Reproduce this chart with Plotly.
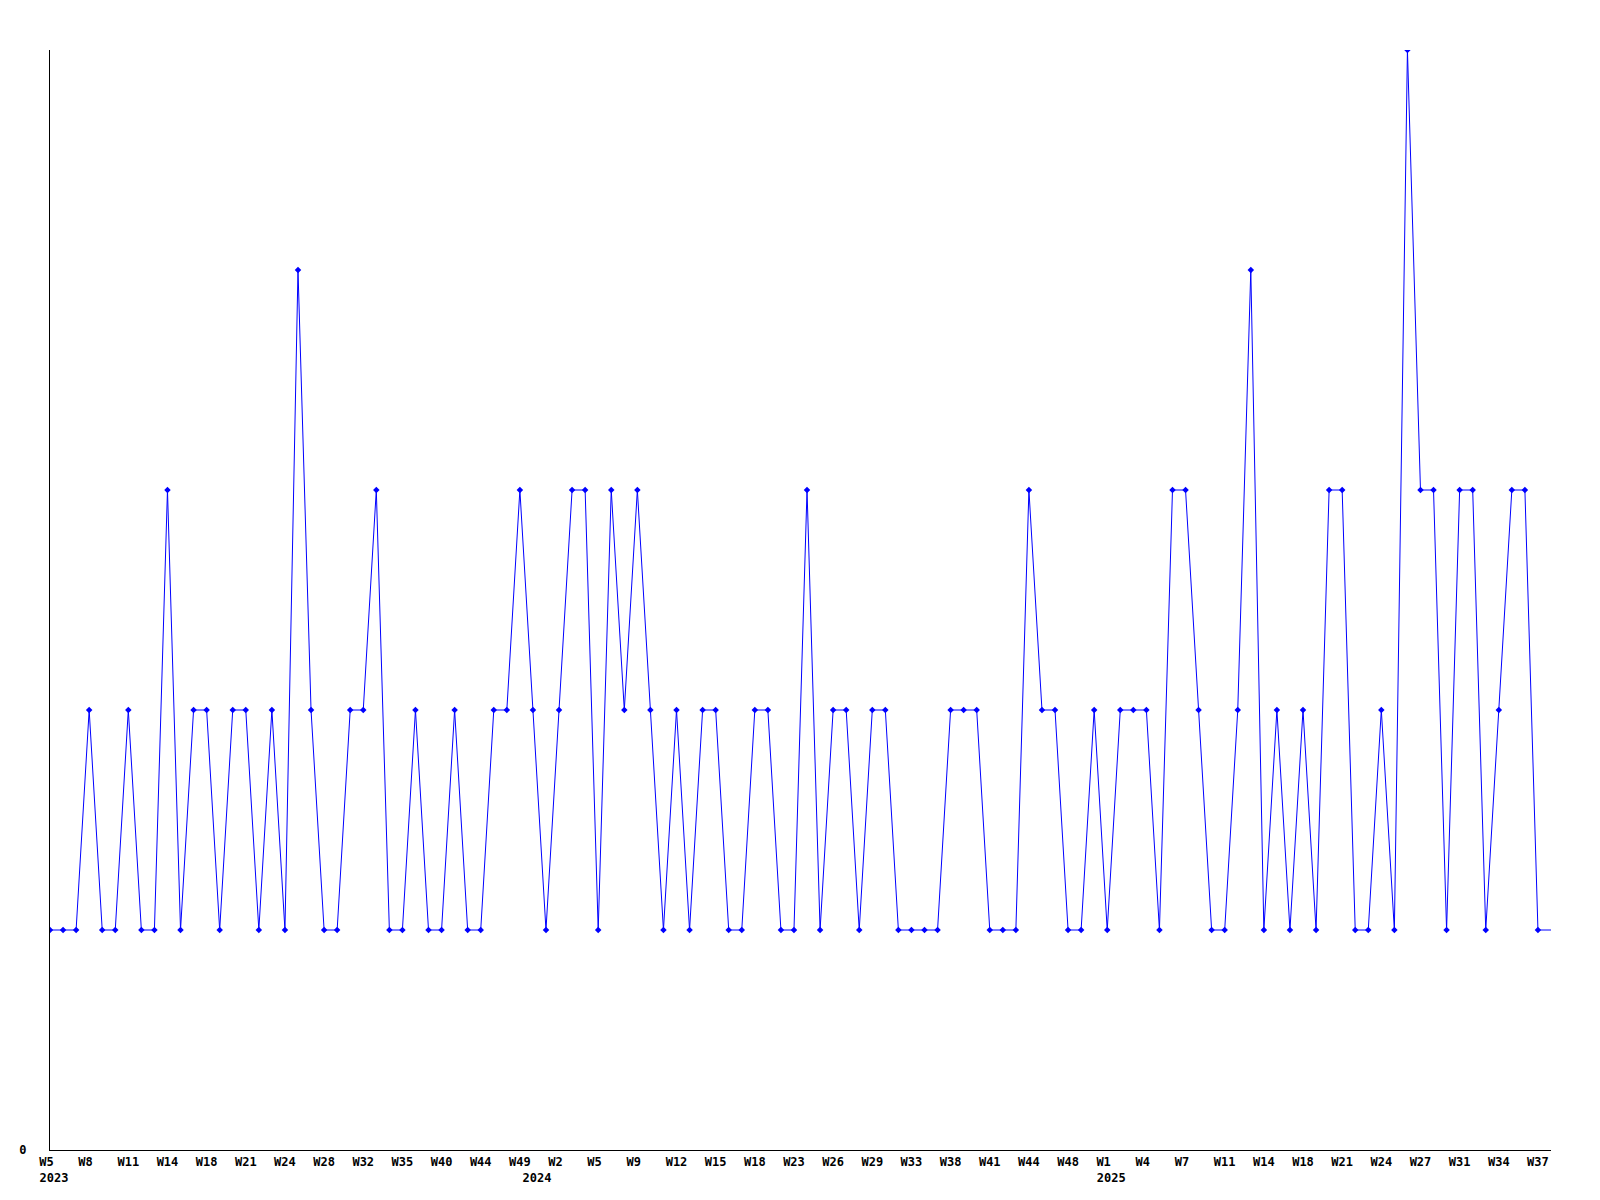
import plotly.graph_objects as go

# Weekly counts (one point per reporting week, evenly spaced)
values = [
    1, 1, 1, 2, 1, 1, 2, 1, 1, 3, 1, 2, 2, 1, 2, 2, 1, 2, 1, 4,
    2, 1, 1, 2, 2, 3, 1, 1, 2, 1, 1, 2, 1, 1, 2, 2, 3, 2, 1, 2,
    3, 3, 1, 3, 2, 3, 2, 1, 2, 1, 2, 2, 1, 1, 2, 2, 1, 1, 3, 1,
    2, 2, 1, 2, 2, 1, 1, 1, 1, 2, 2, 2, 1, 1, 1, 3, 2, 2, 1, 1,
    2, 1, 2, 2, 2, 1, 3, 3, 2, 1, 1, 2, 4, 1, 2, 1, 2, 1, 3, 3,
    1, 1, 2, 1, 5, 3, 3, 1, 3, 3, 1, 2, 3, 3, 1,
]
# value carried on to the right edge after the last reported week
tail_value = 1

# labels shown for every third week
week_labels = [
    "W5", "W8", "W11", "W14", "W18", "W21", "W24", "W28", "W32", "W35",
    "W40", "W44", "W49", "W2", "W5", "W9", "W12", "W15", "W18", "W23",
    "W26", "W29", "W33", "W38", "W41", "W44", "W48", "W1", "W4", "W7",
    "W11", "W14", "W18", "W21", "W24", "W27", "W31", "W34", "W37",
]
label_step = 3

years = ["2023", "2024", "2025"]
year_first_point = [0, 37, 81]

y_ticks = [0]
y_tick_labels = ["0"]

n = len(values)
x_idx = list(range(n))
tickvals = list(range(0, n, label_step))
# pad to 3 monospace characters so labels start at the same offset
ticktext = [lbl + "\u00a0" * (3 - len(lbl)) for lbl in week_labels]

BLUE = "#0000ff"
TICKFONT = dict(family="DejaVu Sans Mono", size=12, color="black", weight="bold")

fig = go.Figure()
fig.add_trace(go.Scatter(
    x=x_idx + [n], y=values + [tail_value],
    mode="lines", line=dict(color=BLUE, width=1),
    hoverinfo="skip", showlegend=False,
))
fig.add_trace(go.Scatter(
    x=x_idx, y=values,
    mode="markers", marker=dict(color=BLUE, size=5, symbol="diamond"),
    showlegend=False,
))
fig.add_trace(go.Scatter(
    x=year_first_point, y=[None] * len(years), xaxis="x2",
    mode="markers", hoverinfo="skip", showlegend=False,
))

fig.update_layout(
    width=1600, height=1200,
    margin=dict(l=50, r=49, t=50, b=50),
    paper_bgcolor="white", plot_bgcolor="white",
    font=dict(family="DejaVu Sans Mono", size=12, color="black"),
    xaxis=dict(
        range=[0, n], showgrid=False, zeroline=False,
        showline=True, linecolor="black", linewidth=1,
        tickvals=tickvals, ticktext=ticktext, ticks="",
        tickfont=TICKFONT, tickangle=0, ticklabelstandoff=1,
    ),
    xaxis2=dict(
        range=[0, n], overlaying="x", anchor="y", side="bottom",
        showgrid=False, zeroline=False, showline=False,
        tickvals=year_first_point, ticktext=years, ticks="",
        tickfont=TICKFONT,
        ticklabelstandoff=19, ticklabelshift=4, tickangle=0,
    ),
    yaxis=dict(
        range=[0, 5], showgrid=False, zeroline=False,
        showline=True, linecolor="black", linewidth=1,
        tickvals=y_ticks, ticktext=y_tick_labels, ticks="",
        tickfont=TICKFONT, ticklabelstandoff=20,
    ),
)

fig.write_html(
    "out.html",
    config={"displayModeBar": False},
    post_script="document.body.style.margin='0';",
)
